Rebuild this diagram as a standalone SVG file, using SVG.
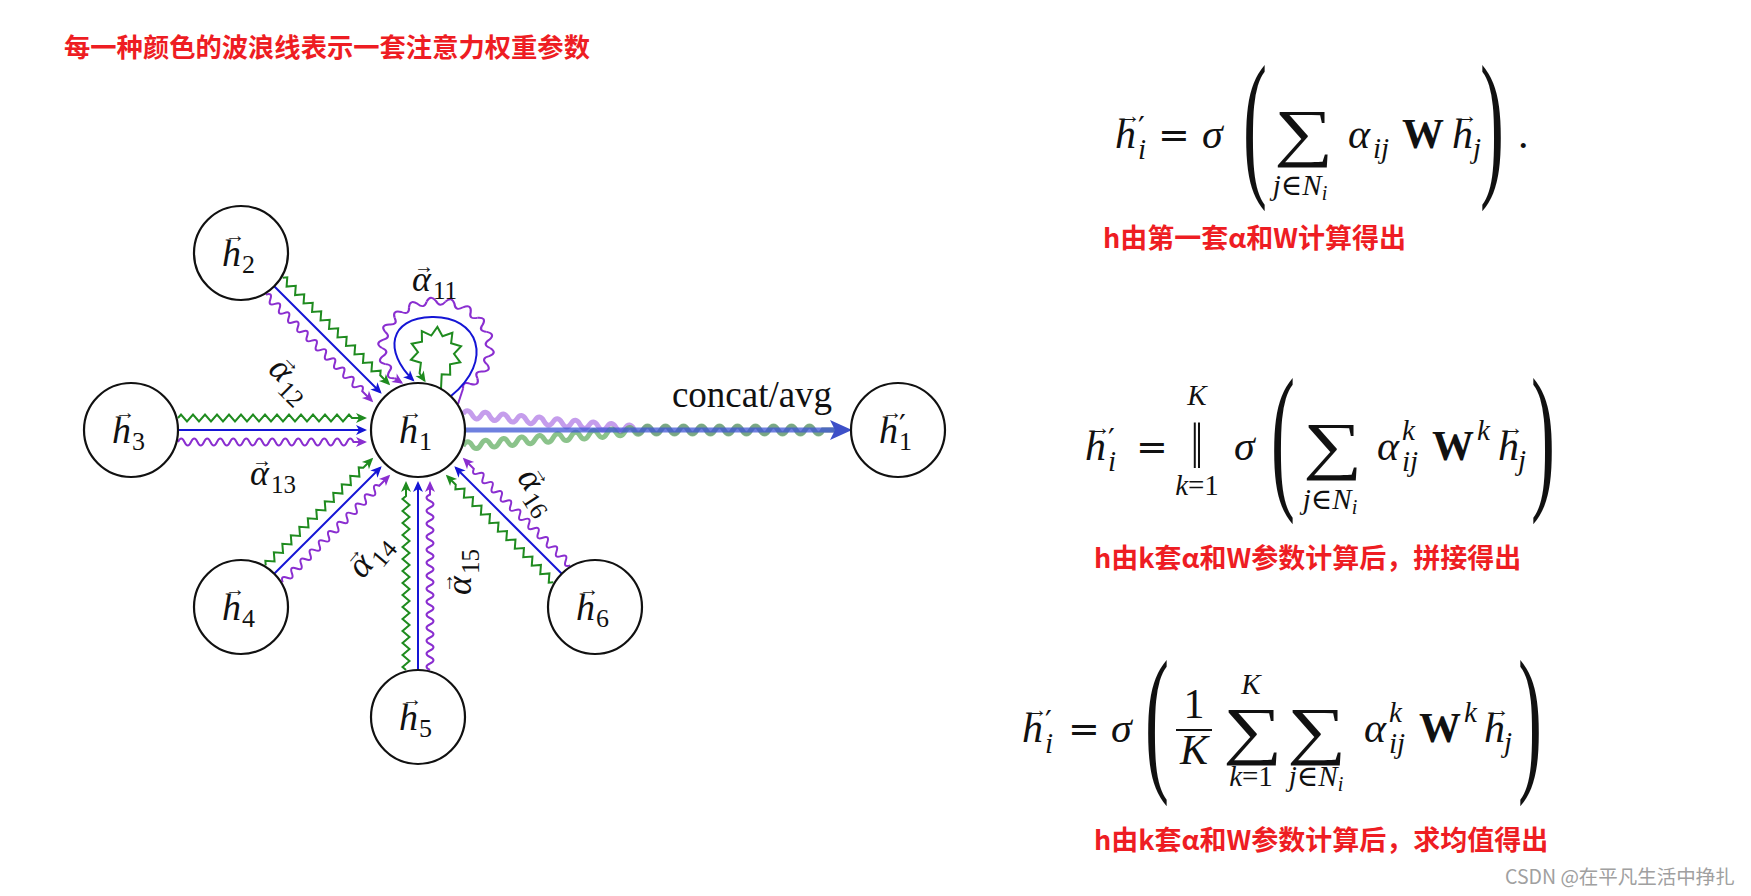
<svg xmlns="http://www.w3.org/2000/svg" width="1751" height="896" viewBox="0 0 1751 896">
<style>
.node circle{fill:#fff;stroke:#111;stroke-width:2.2}
.hl{font-family:"Liberation Serif","DejaVu Serif",serif;font-style:italic;font-size:38px;fill:#111}
.hs{font-family:"Liberation Serif","DejaVu Serif",serif;font-size:26px;fill:#111}
.pr{font-family:"DejaVu Serif",serif;font-size:30px;fill:#111}
.va{font-family:"Liberation Serif","DejaVu Serif",serif;font-size:20px;fill:#111}
.va2{font-family:"Liberation Serif","DejaVu Serif",serif;font-size:23px;fill:#111}
.b,.g,.p{fill:none;stroke-width:2}
.b{stroke:#1515d5;marker-end:url(#mb)}
.g{stroke:#1f8b1f;marker-end:url(#mg)}
.p{stroke:#8a2ed0;marker-end:url(#mp)}
.al{font-family:"Liberation Serif","DejaVu Serif",serif;font-style:italic;font-size:36px;fill:#111}
.as{font-family:"Liberation Serif","DejaVu Serif",serif;font-size:25px;fill:#111}
.mi{font-family:"Liberation Serif","DejaVu Serif",serif;font-style:italic;font-size:42px;fill:#111}
.mr{font-family:"Liberation Serif","DejaVu Serif",serif;font-size:42px;fill:#111}
.mb{font-family:"Liberation Serif","DejaVu Serif",serif;font-weight:bold;font-size:42px;fill:#111}
.si{font-family:"Liberation Serif","DejaVu Serif",serif;font-style:italic;font-size:29px;fill:#111}
.eq{font-family:"DejaVu Serif",serif;font-size:38px;fill:#111}
.bp{font-family:"Liberation Serif",serif;font-size:160px;fill:#111}
.sum{font-family:"Liberation Serif","DejaVu Serif",serif;font-size:64px;fill:#111}
.red{font-family:"Noto Sans CJK SC",sans-serif;font-weight:700;fill:#ee1d23}
.ft{font-family:"Noto Sans CJK SC",sans-serif;font-size:19.5px;fill:#a0a0a0}
</style>
<defs>
<marker id="mb" markerUnits="userSpaceOnUse" viewBox="-11 -6 14 12" markerWidth="14" markerHeight="12" refX="0" refY="0" orient="auto" overflow="visible"><path d="M2,0 L-9,-5 L-6,0 L-9,5 Z" fill="#1515d5"/></marker>
<marker id="mg" markerUnits="userSpaceOnUse" viewBox="-11 -6 14 12" markerWidth="14" markerHeight="12" refX="0" refY="0" orient="auto" overflow="visible"><path d="M2,0 L-9,-5 L-6,0 L-9,5 Z" fill="#1f8b1f"/></marker>
<marker id="mp" markerUnits="userSpaceOnUse" viewBox="-11 -6 14 12" markerWidth="14" markerHeight="12" refX="0" refY="0" orient="auto" overflow="visible"><path d="M2,0 L-9,-5 L-6,0 L-9,5 Z" fill="#8a2ed0"/></marker>
<path id="bD" d="M0,0 L150,0"/>
<path id="bS" d="M0,0 L187,0"/>
<path id="zD" d="M0,0 l3,-3.5 l6,7 l6,-7 l6,7 l6,-7 l6,7 l6,-7 l6,7 l6,-7 l6,7 l6,-7 l6,7 l6,-7 l6,7 l6,-7 l6,7 l6,-7 l6,7 l6,-7 l6,7 l6,-7 l6,7 l6,-7 l3,3.5 L150,0"/>
<path id="zS" d="M0,0 l3,-3.5 l6,7 l6,-7 l6,7 l6,-7 l6,7 l6,-7 l6,7 l6,-7 l6,7 l6,-7 l6,7 l6,-7 l6,7 l6,-7 l6,7 l6,-7 l6,7 l6,-7 l6,7 l6,-7 l6,7 l6,-7 l6,7 l6,-7 l6,7 l6,-7 l6,7 l6,-7 l3,3.5 L187,0"/>
<path id="sD" d="M0,0 q3.25,-7 6.5,0 t6.5,0 t6.5,0 t6.5,0 t6.5,0 t6.5,0 t6.5,0 t6.5,0 t6.5,0 t6.5,0 t6.5,0 t6.5,0 t6.5,0 t6.5,0 t6.5,0 t6.5,0 t6.5,0 t6.5,0 t6.5,0 t6.5,0 t6.5,0 L150,0"/>
<path id="sS" d="M0,0 q3.25,-7 6.5,0 t6.5,0 t6.5,0 t6.5,0 t6.5,0 t6.5,0 t6.5,0 t6.5,0 t6.5,0 t6.5,0 t6.5,0 t6.5,0 t6.5,0 t6.5,0 t6.5,0 t6.5,0 t6.5,0 t6.5,0 t6.5,0 t6.5,0 t6.5,0 t6.5,0 t6.5,0 t6.5,0 t6.5,0 t6.5,0 t6.5,0 L187,0"/>
<path id="pw" d="M50,0 Q57.28,5.01 49.24,8.68 Q41.05,11.00 46.98,17.10"/>
</defs>
<rect width="1751" height="896" fill="#fff"/>

<text class="red" x="64" y="57" font-size="26.3">每一种颜色的波浪线表示一套注意力权重参数</text>

<g id="connectors">
  <g id="e2" transform="translate(274.2,286.2) rotate(45)">
    <use href="#bD" class="b"/><use href="#zD" class="g" y="-12"/><use href="#sD" class="p" y="12"/>
  </g>
  <g id="e3" transform="translate(178,430)">
    <use href="#bS" class="b"/><use href="#zS" class="g" y="-12"/><use href="#sS" class="p" y="12"/>
  </g>
  <g id="e4" transform="translate(274.2,573.8) rotate(-45)">
    <use href="#bD" class="b"/><use href="#zD" class="g" y="-12"/><use href="#sD" class="p" y="12"/>
  </g>
  <g id="e5" transform="translate(418,670) rotate(-90)">
    <use href="#bS" class="b"/><use href="#zS" class="g" y="-12"/><use href="#sS" class="p" y="12"/>
  </g>
  <g id="e6" transform="translate(561.8,573.8) rotate(-135)">
    <use href="#bD" class="b"/><use href="#zD" class="g" y="-12"/><use href="#sD" class="p" y="12"/>
  </g>
  <g id="loop11">
    <g transform="translate(436,348) scale(1.08,0.94)" fill="none" stroke="#8a2ed0" stroke-width="2">
      <use href="#pw" transform="rotate(-220)"/><use href="#pw" transform="rotate(-200)"/><use href="#pw" transform="rotate(-180)"/><use href="#pw" transform="rotate(-160)"/><use href="#pw" transform="rotate(-140)"/><use href="#pw" transform="rotate(-120)"/><use href="#pw" transform="rotate(-100)"/><use href="#pw" transform="rotate(-80)"/><use href="#pw" transform="rotate(-60)"/><use href="#pw" transform="rotate(-40)"/><use href="#pw" transform="rotate(-20)"/><use href="#pw" transform="rotate(0)"/><use href="#pw" transform="rotate(20)"/><use href="#pw" transform="rotate(40)"/>
    </g>
    <path d="M458,404 L463,388.7" fill="none" stroke="#8a2ed0" stroke-width="2"/>
    <path class="p" d="M394.6,378.2 L401.5,382.7"/>
    <path class="b" d="M451,396 C495,360 478,316 432,317 C388,318 384,352 413,380"/>
    <path class="g" d="M441,389 L441.7,374.3 L450.2,374.8 L450.0,364.3 L460.3,362.3 L454.0,353.9 L461.1,346.3 L451.1,343.2 L452.4,332.8 L442.5,336.2 L437.4,327.0 L431.3,335.6 L421.8,331.2 L422.0,341.7 L411.7,343.7 L418.0,352.1 L410.9,359.7 L420.9,362.8 L419.6,373.2 L424.5,380.7"/>
  </g>
  <g id="concat">
    <path d="M463,414 q4.5,-7 9,0.8 t9,0.8 t9,0.8 t9,0.8 t9,0.8 t9,0.8 t9,0.8 t9,0.8 t9,0.8 t9,0.8 t9,0.8 t9,0.8 t9,0.8 t9,0.8 t9,0.8 t9,0.8 t9,0.8 t9,0.8 t9,0.8 t9,0.8 t9,0 t9,0 t9,0 t9,0 t9,0 t9,0 t9,0 t9,0 t9,0 t9,0 t9,0 t9,0 t9,0 t9,0 t9,0 t9,0 t9,0 t9,0 t9,0 t9,0 L838,430" fill="none" stroke="#ad74e4" stroke-width="5" stroke-opacity="0.7"/>
    <path d="M463,446 q4.5,-8 9,-0.8 t9,-0.8 t9,-0.8 t9,-0.8 t9,-0.8 t9,-0.8 t9,-0.8 t9,-0.8 t9,-0.8 t9,-0.8 t9,-0.8 t9,-0.8 t9,-0.8 t9,-0.8 t9,-0.8 t9,-0.8 t9,-0.8 t9,-0.8 t9,-0.8 t9,-0.8 t9,0 t9,0 t9,0 t9,0 t9,0 t9,0 t9,0 t9,0 t9,0 t9,0 t9,0 t9,0 t9,0 t9,0 t9,0 t9,0 t9,0 t9,0 t9,0 t9,0 L838,430" fill="none" stroke="#5aaa5a" stroke-width="5" stroke-opacity="0.7"/>
    <line x1="465" y1="430" x2="836" y2="430" stroke="#3f56d4" stroke-width="5" stroke-opacity="0.75"/>
    <polygon points="852,430 830,420 835,430 830,440" fill="#3d50c8"/>
  </g>
</g>

<g id="labels">
  <g id="a11" transform="translate(434,282)"><text class="al" x="-22" y="9">α</text><text class="va" x="-10" y="-9" text-anchor="middle">→</text><text class="as" x="-1" y="17">11</text></g>
  <g id="a12" transform="translate(289,380) rotate(45)"><text class="al" x="-22" y="9">α</text><text class="va" x="-10" y="-9" text-anchor="middle">→</text><text class="as" x="-1" y="17">12</text></g>
  <g id="a13" transform="translate(272,476)"><text class="al" x="-22" y="9">α</text><text class="va" x="-10" y="-9" text-anchor="middle">→</text><text class="as" x="-1" y="17">13</text></g>
  <g id="a14" transform="translate(370,557) rotate(-50)"><text class="al" x="-22" y="9">α</text><text class="va" x="-10" y="-9" text-anchor="middle">→</text><text class="as" x="-1" y="17">14</text></g>
  <g id="a15" transform="translate(462,573) rotate(-90)"><text class="al" x="-22" y="9">α</text><text class="va" x="-10" y="-9" text-anchor="middle">→</text><text class="as" x="-1" y="17">15</text></g>
  <g id="a16" transform="translate(536,491) rotate(57)"><text class="al" x="-22" y="9">α</text><text class="va" x="-10" y="-9" text-anchor="middle">→</text><text class="as" x="-1" y="17">16</text></g>
  <text x="752" y="407" font-family="Liberation Serif, DejaVu Serif, serif" font-size="37" text-anchor="middle" fill="#111">concat/avg</text>
</g>

<g id="n1" class="node"><circle cx="418" cy="430" r="47"/><text class="hl" x="399" y="443">h</text><text class="va" x="412" y="419" text-anchor="middle">→</text><text class="hs" x="419" y="450">1</text></g>
<g id="n2" class="node"><circle cx="241" cy="253" r="47"/><text class="hl" x="222" y="266">h</text><text class="va" x="235" y="242" text-anchor="middle">→</text><text class="hs" x="242" y="273">2</text></g>
<g id="n3" class="node"><circle cx="131" cy="430" r="47"/><text class="hl" x="112" y="443">h</text><text class="va" x="125" y="419" text-anchor="middle">→</text><text class="hs" x="132" y="450">3</text></g>
<g id="n4" class="node"><circle cx="241" cy="607" r="47"/><text class="hl" x="222" y="620">h</text><text class="va" x="235" y="596" text-anchor="middle">→</text><text class="hs" x="242" y="627">4</text></g>
<g id="n5" class="node"><circle cx="418" cy="717" r="47"/><text class="hl" x="399" y="730">h</text><text class="va" x="412" y="706" text-anchor="middle">→</text><text class="hs" x="419" y="737">5</text></g>
<g id="n6" class="node"><circle cx="595" cy="607" r="47"/><text class="hl" x="576" y="620">h</text><text class="va" x="589" y="596" text-anchor="middle">→</text><text class="hs" x="596" y="627">6</text></g>
<g id="n1p" class="node"><circle cx="898" cy="430" r="47"/><text class="hl" x="879" y="443">h</text><text class="va" x="892" y="419" text-anchor="middle">→</text><text class="pr" x="899" y="436">′</text><text class="hs" x="899" y="450">1</text></g>

<g id="f1">
  <text class="mi" x="1115" y="148">h</text><text class="va2" x="1129" y="123" text-anchor="middle">→</text><text class="pr" x="1138" y="138">′</text><text class="si" x="1138" y="159">i</text>
  <text class="eq" x="1158" y="148">=</text>
  <text class="mi" x="1202" y="148">σ</text>
  <text class="bp" transform="translate(1243,177) scale(0.45,1)">(</text>
  <text class="sum" transform="translate(1274,154) scale(1.3,1)">∑</text>
  <text class="si" x="1300" y="195" text-anchor="middle">j<tspan font-style="normal">∈</tspan>N<tspan font-size="20" dy="5">i</tspan></text>
  <text class="mi" x="1348" y="148">α</text><text class="si" x="1373" y="158">ij</text>
  <text class="mb" x="1402" y="148">W</text>
  <text class="mi" x="1452" y="148">h</text><text class="va2" x="1466" y="123" text-anchor="middle">→</text><text class="si" x="1473" y="158">j</text>
  <text class="bp" transform="translate(1480,177) scale(0.45,1)">)</text>
  <text class="mr" x="1518" y="148">.</text>
</g>
<text class="red" x="1103" y="248" font-size="27">h由第一套α和W计算得出</text>

<g id="f2">
  <text class="mi" x="1085" y="460">h</text><text class="va2" x="1099" y="435" text-anchor="middle">→</text><text class="pr" x="1108" y="450">′</text><text class="si" x="1108" y="471">i</text>
  <text class="eq" x="1136" y="460">=</text>
  <text class="mr" transform="translate(1197,468) scale(1,1.55)" text-anchor="middle">‖</text>
  <text class="si" x="1197" y="405" text-anchor="middle">K</text>
  <text class="si" x="1197" y="495" text-anchor="middle">k<tspan font-style="normal">=1</tspan></text>
  <text class="mi" x="1234" y="460">σ</text>
  <text class="bp" transform="translate(1271,490) scale(0.45,1)">(</text>
  <text class="sum" transform="translate(1303,467) scale(1.3,1)">∑</text>
  <text class="si" x="1330" y="509" text-anchor="middle">j<tspan font-style="normal">∈</tspan>N<tspan font-size="20" dy="5">i</tspan></text>
  <text class="mi" x="1377" y="460">α</text><text class="si" x="1402" y="440">k</text><text class="si" x="1402" y="471">ij</text>
  <text class="mb" x="1432" y="460">W</text><text class="si" x="1477" y="440">k</text>
  <text class="mi" x="1498" y="460">h</text><text class="va2" x="1512" y="435" text-anchor="middle">→</text><text class="si" x="1518" y="470">j</text>
  <text class="bp" transform="translate(1531,490) scale(0.45,1)">)</text>
</g>
<text class="red" x="1094" y="568" font-size="27">h由k套α和W参数计算后，拼接得出</text>

<g id="f3">
  <text class="mi" x="1022" y="742">h</text><text class="va2" x="1036" y="717" text-anchor="middle">→</text><text class="pr" x="1045" y="732">′</text><text class="si" x="1045" y="753">i</text>
  <text class="eq" x="1068" y="742">=</text>
  <text class="mi" x="1111" y="742">σ</text>
  <text class="bp" transform="translate(1145,772) scale(0.45,1)">(</text>
  <text class="mr" x="1194" y="718" text-anchor="middle" font-size="38">1</text>
  <line x1="1176" y1="730" x2="1212" y2="730" stroke="#111" stroke-width="2"/>
  <text class="mi" x="1194" y="764" text-anchor="middle" font-size="38">K</text>
  <text class="sum" transform="translate(1223,752) scale(1.3,1)">∑</text>
  <text class="si" x="1251" y="694" text-anchor="middle">K</text>
  <text class="si" x="1251" y="786" text-anchor="middle">k<tspan font-style="normal">=1</tspan></text>
  <text class="sum" transform="translate(1287,752) scale(1.3,1)">∑</text>
  <text class="si" x="1316" y="786" text-anchor="middle">j<tspan font-style="normal">∈</tspan>N<tspan font-size="20" dy="5">i</tspan></text>
  <text class="mi" x="1364" y="742">α</text><text class="si" x="1389" y="722">k</text><text class="si" x="1389" y="753">ij</text>
  <text class="mb" x="1419" y="742">W</text><text class="si" x="1464" y="722">k</text>
  <text class="mi" x="1484" y="742">h</text><text class="va2" x="1498" y="717" text-anchor="middle">→</text><text class="si" x="1504" y="752">j</text>
  <text class="bp" transform="translate(1518,772) scale(0.45,1)">)</text>
</g>
<text class="red" x="1094" y="850" font-size="27">h由k套α和W参数计算后，求均值得出</text>

<text class="ft" x="1505" y="884">CSDN @在平凡生活中挣扎</text>
</svg>
